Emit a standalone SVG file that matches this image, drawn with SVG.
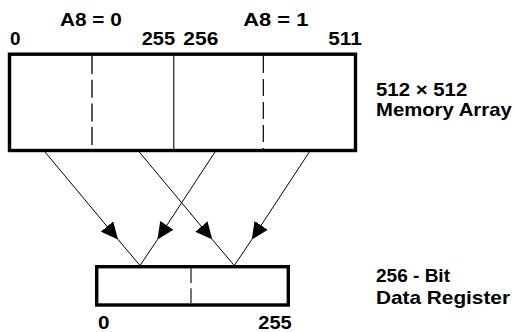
<svg xmlns="http://www.w3.org/2000/svg" width="517" height="332" viewBox="0 0 517 332">
<defs>
<style>
.t{font-family:"Liberation Sans",Arial,sans-serif;font-weight:bold;font-size:19px;fill:#000}
.box{fill:#fff;stroke:#000;stroke-width:3.4}
.conn{fill:none;stroke:#000;stroke-width:1}
</style>
<marker id="ah" viewBox="0 0 17 16" refX="17" refY="8" markerWidth="17" markerHeight="16" markerUnits="userSpaceOnUse" orient="auto">
<path d="M0,0 L17,8 L0,16 Z" fill="#000"/>
</marker>
</defs>
<rect width="517" height="332" fill="#fff"/>
<g id="memory-array">
<rect class="box" x="9.5" y="54.2" width="346" height="96.3"/>
<line x1="92" y1="56" x2="92" y2="149" stroke="#555" stroke-width="2" stroke-dasharray="18 5.7"/>
<line x1="173.7" y1="56" x2="173.7" y2="149" stroke="#444" stroke-width="1.5"/>
<line x1="263.3" y1="56" x2="263.3" y2="149" stroke="#000" stroke-width="1.2" stroke-dasharray="17 6"/>
<text class="t" x="60" y="26" textLength="61.7" lengthAdjust="spacingAndGlyphs">A8 = 0</text>
<text class="t" x="243.3" y="26" textLength="65" lengthAdjust="spacingAndGlyphs">A8 = 1</text>
<text class="t" x="10" y="45" textLength="10.5" lengthAdjust="spacingAndGlyphs">0</text>
<text class="t" x="141.7" y="45" textLength="33.3" lengthAdjust="spacingAndGlyphs">255</text>
<text class="t" x="183.3" y="45" textLength="35" lengthAdjust="spacingAndGlyphs">256</text>
<text class="t" x="328.3" y="45" textLength="33.4" lengthAdjust="spacingAndGlyphs">511</text>
<text class="t" x="376" y="96" textLength="91.3" lengthAdjust="spacingAndGlyphs">512 × 512</text>
<text class="t" x="376" y="115.5" textLength="135.7" lengthAdjust="spacingAndGlyphs">Memory Array</text>
</g>
<g id="data-register">
<rect class="box" x="96.7" y="266.7" width="191.6" height="38.3"/>
<line x1="191" y1="268" x2="191" y2="283" stroke="#444" stroke-width="1.5"/>
<line x1="191" y1="288.3" x2="191" y2="304" stroke="#444" stroke-width="1.5"/>
<text class="t" x="376" y="282.3" textLength="74" lengthAdjust="spacingAndGlyphs">256 - Bit</text>
<text class="t" x="376" y="304" textLength="134" lengthAdjust="spacingAndGlyphs">Data Register</text>
<text class="t" x="98" y="329" textLength="11.5" lengthAdjust="spacingAndGlyphs">0</text>
<text class="t" x="258.3" y="329" textLength="33.4" lengthAdjust="spacingAndGlyphs">255</text>
</g>
<g id="connectors">
<path class="conn" d="M45,152 L118,239.5 L140,265.5" marker-mid="url(#ah)"/>
<path class="conn" d="M215,152 L157.5,239.5 L140,265.5" marker-mid="url(#ah)"/>
<path class="conn" d="M139.3,152 L212.3,239.5 L234.3,265.5" marker-mid="url(#ah)"/>
<path class="conn" d="M309.3,152 L251.8,239.5 L234.3,265.5" marker-mid="url(#ah)"/>
</g>
</svg>
